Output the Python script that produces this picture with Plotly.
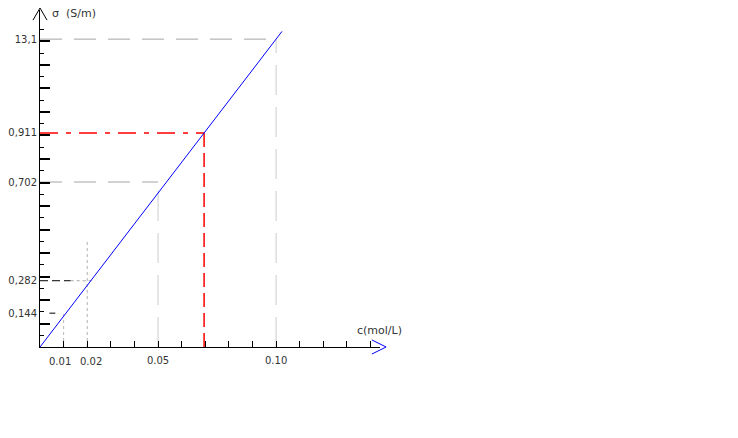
import plotly.graph_objects as go

# droite sigma = f(c)
c_line = [0.0, 0.1025]
sigma_line = [0.0, 1.343]

# graduations
y_label_vals = [0.144, 0.282, 0.702, 0.911, 1.31]
y_label_text = ["0,144", "0,282", "0,702", "0,911", "13,1"]
y_major = [0.1, 0.2, 0.3, 0.4, 0.5, 0.6, 0.7, 0.8, 0.9, 1.0, 1.1, 1.2, 1.3]
y_minor = [0.05, 0.15, 0.25, 0.35, 0.45, 0.55, 0.65, 0.75, 0.85, 0.95, 1.05, 1.15, 1.25, 1.35]
x_tick_vals = [0.01, 0.02, 0.03, 0.04, 0.05, 0.06, 0.07, 0.08, 0.09, 0.10, 0.11, 0.12, 0.13, 0.14]
x_tick_text = ["", "", "", "", "0.05", "", "", "", "", "0.10", "", "", "", ""]
x_small_vals = [0.01, 0.02]
x_small_text = ["0.01", "0.02"]

# lignes de rappel
c_read = [0.0, 0.0695, 0.0695]
sigma_read = [0.911, 0.911, 0.0]
c_1310 = [0.0, 0.10]
c_0702 = [0.0, 0.05]
c_0282_black = [0.0, 0.013]
c_0282_gray = [0.013, 0.022]
c_0144_black = [0.004, 0.0065]
sigma_02 = [0.0, 0.46]

fig = go.Figure()

def seg(x, y, color, dash, width=1):
    fig.add_trace(go.Scatter(x=x, y=y, mode="lines", hoverinfo="skip",
                             line=dict(color=color, dash=dash, width=width)))

seg(c_1310, [1.31, 1.31], "#a4a4a4", "22px,12px")
seg([0.10, 0.10], [0.0, 1.31], "#cccccc", "30px,12px")
seg(c_0702, [0.702, 0.702], "#a4a4a4", "22px,12px")
seg([0.05, 0.05], [0.0, 0.702], "#cccccc", "30px,12px")
seg(c_0282_black, [0.282, 0.282], "black", "8px,4px")
seg(c_0282_gray, [0.282, 0.282], "#a8a8a8", "dot")
seg([0.02, 0.02], sigma_02, "#b0b0b0", "dot")
seg(c_0144_black, [0.144, 0.144], "black", "solid")
seg([0.01, 0.01], [0.0, 0.144], "#b8b8b8", "dot")
seg(c_read[:2], sigma_read[:2], "red", "18px,8px,5px,8px", 1.5)
seg(c_read[1:], sigma_read[1:], "red", "14px,6px", 1.5)
seg(c_line, sigma_line, "blue", "solid")
fig.add_trace(go.Scatter(x=[], y=[], yaxis="y2"))

font = dict(family="DejaVu Sans", size=10, color="#333333")

fig.update_layout(
    width=738, height=438,
    margin=dict(l=32, r=366, t=2, b=99),
    paper_bgcolor="white", plot_bgcolor="white",
    showlegend=False,
    font=font,
    xaxis=dict(range=[0, 0.144], showgrid=False, zeroline=False, automargin=False,
               showline=True, linecolor="black", linewidth=1,
               tickmode="array", tickvals=x_tick_vals, ticktext=x_tick_text,
               ticks="inside", ticklen=6, tickcolor="black", tickwidth=1,
               tickangle=0, ticklabelstandoff=4, tickfont=font),
    yaxis=dict(range=[0, 1.434], showgrid=False, zeroline=False, automargin=False,
               showline=True, linecolor="black", linewidth=1,
               tickmode="array", tickvals=y_label_vals, ticktext=y_label_text,
               ticks="", tickfont=font, ticklabelstandoff=0,
               minor=dict(tickmode="array", tickvals=y_minor, ticks="inside",
                          ticklen=4, tickwidth=1, tickcolor="black")),
    yaxis2=dict(range=[0, 1.434], overlaying="y", side="left", automargin=False,
                showgrid=False, zeroline=False, showline=False,
                tickmode="array", tickvals=y_major, showticklabels=False,
                ticks="inside", ticklen=10, tickwidth=2, tickcolor="black"),
)

# 0.01 et 0.02 un peu ecartes comme sur l'original
for v, t, dx in zip(x_small_vals, x_small_text, [-4, 4]):
    fig.add_annotation(text=t, x=v, xref="x", y=0, yref="paper", yshift=-22,
                       xshift=dx, showarrow=False, font=font)

# fleches des axes
fig.add_shape(type="path", xref="paper", yref="paper",
              path="M -0.0206 0.97 L 0 1.006 L 0.0206 0.97",
              line=dict(color="black", width=1))
fig.add_shape(type="path", xref="paper", yref="paper",
              path="M 0.976 0.021 L 1.018 0 L 0.976 -0.021",
              line=dict(color="blue", width=1))

fig.add_annotation(text="σ  (S/m)", xref="paper", yref="paper", x=0.03, y=0.99,
                   xanchor="left", yanchor="middle", showarrow=False,
                   font=dict(family="DejaVu Sans", size=11, color="#333333"))
fig.add_annotation(text="c(mol/L)", xref="paper", yref="paper", x=0.925, y=0.05,
                   xanchor="left", yanchor="middle", showarrow=False,
                   font=dict(family="DejaVu Sans", size=11, color="#333333"))

fig.write_html("out.html")
